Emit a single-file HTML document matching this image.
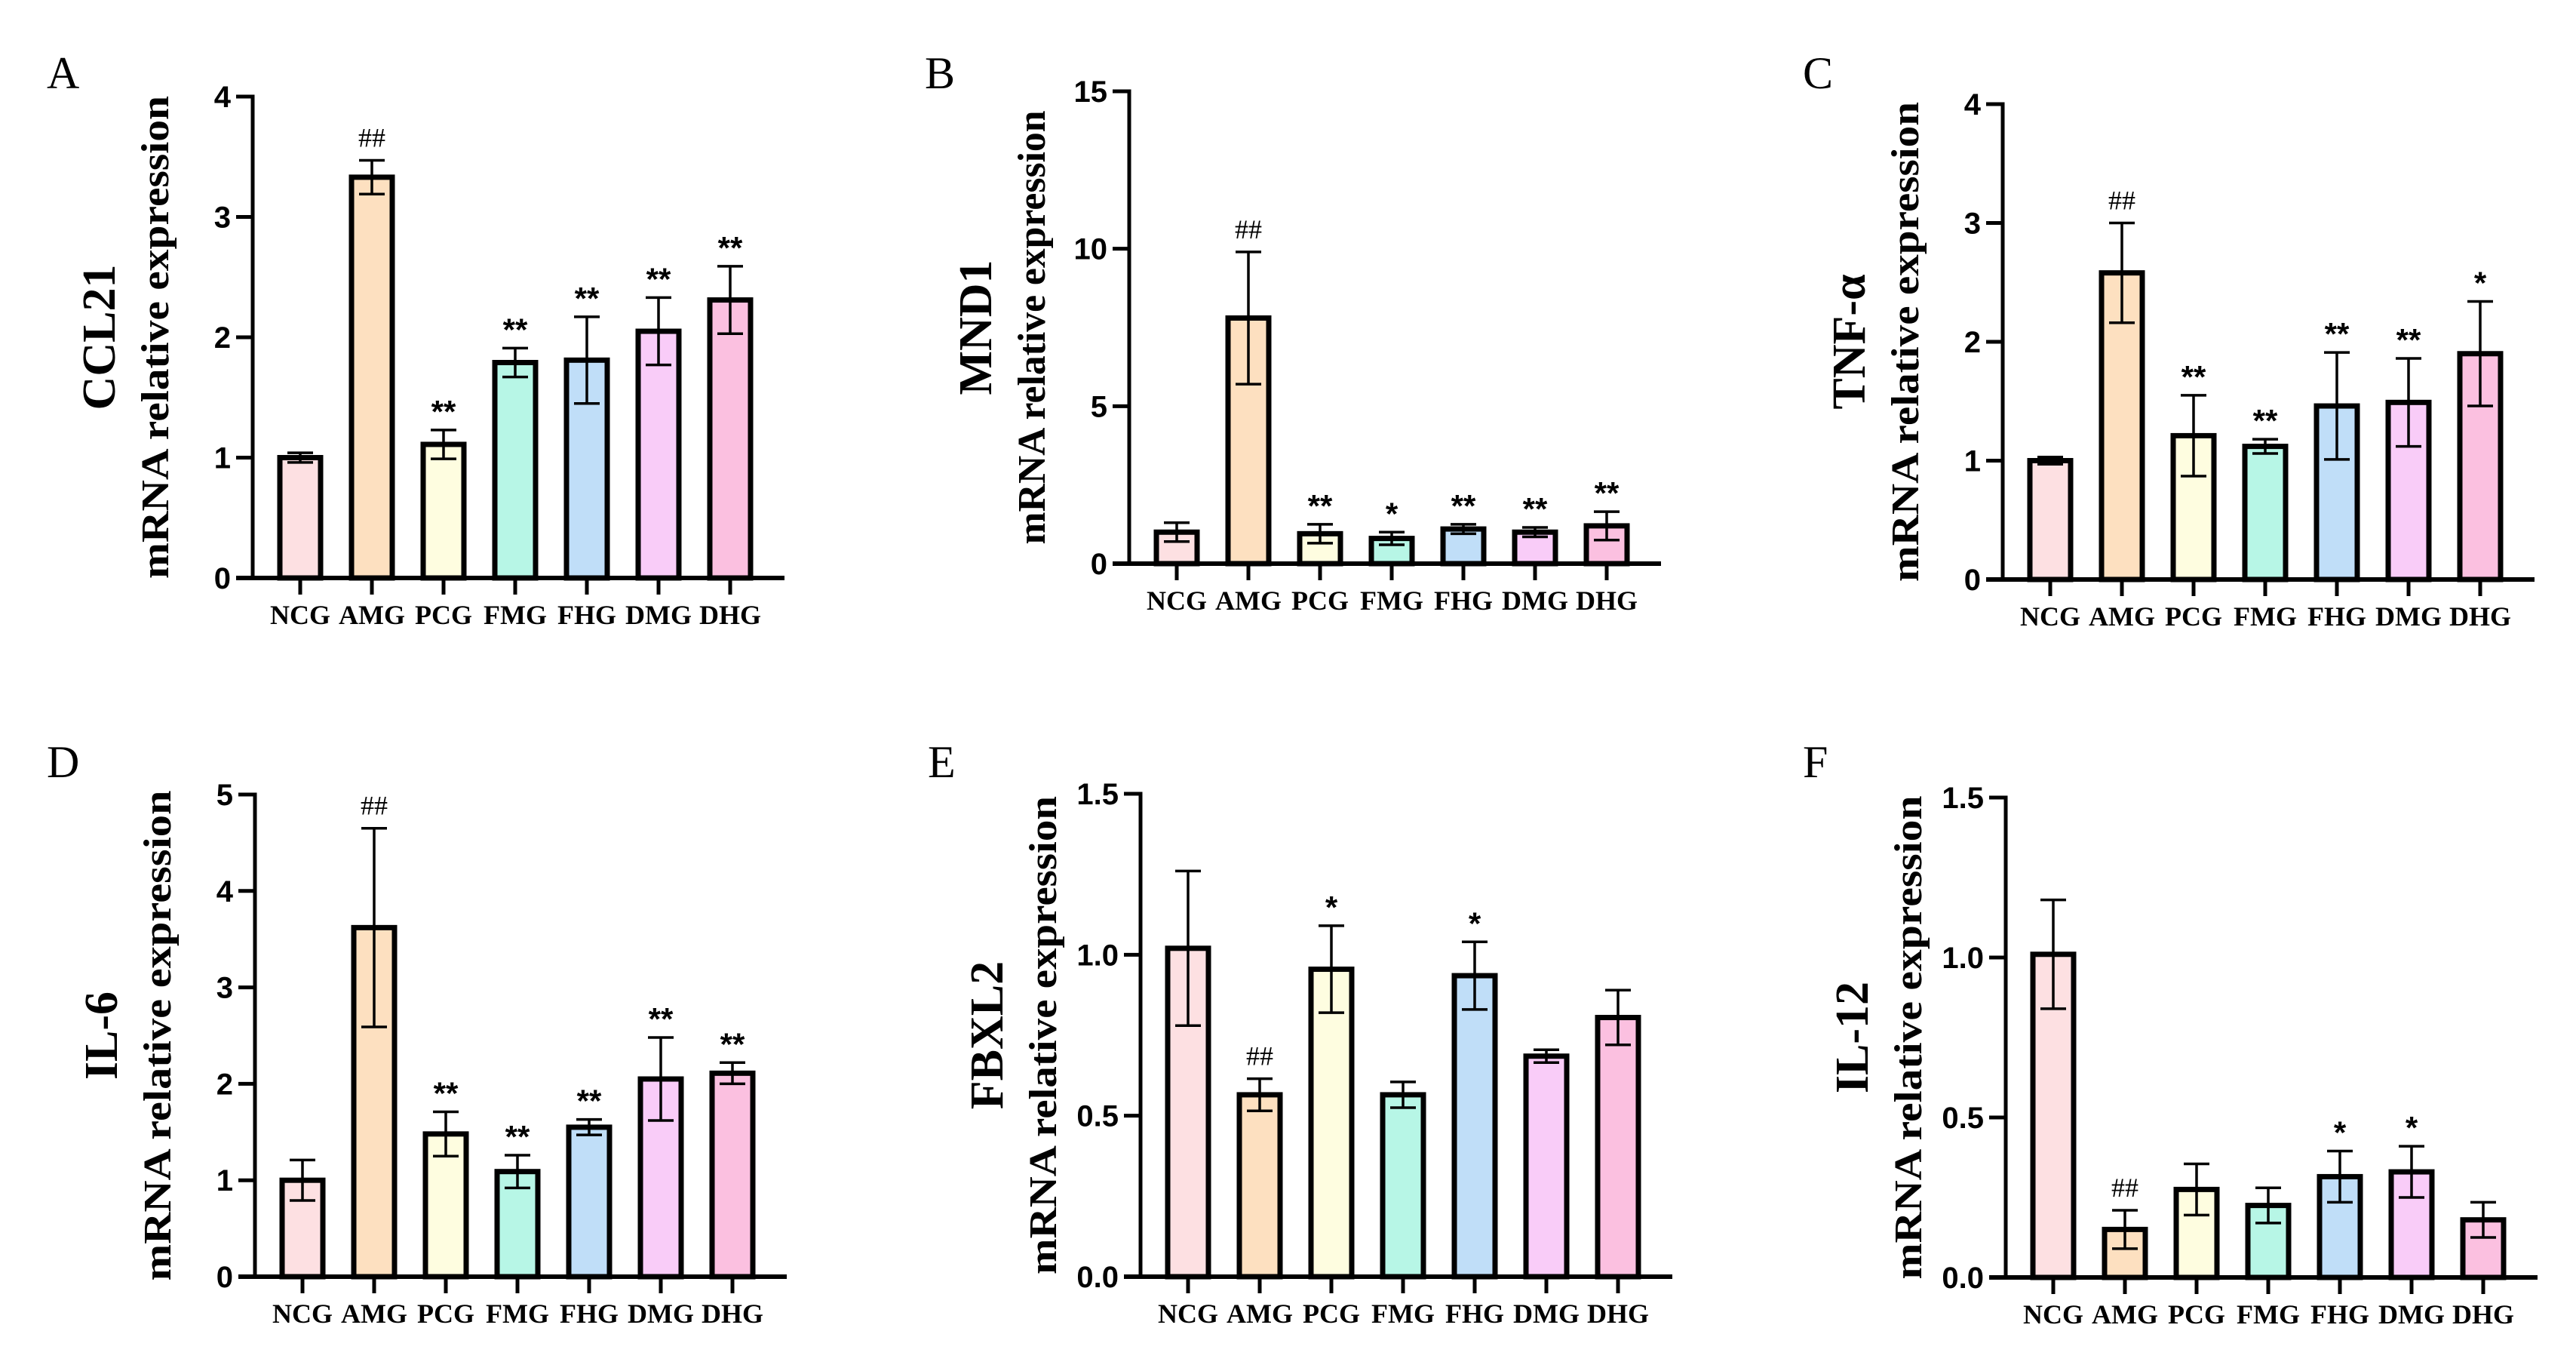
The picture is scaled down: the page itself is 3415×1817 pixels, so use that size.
<!DOCTYPE html>
<html><head><meta charset="utf-8"><style>
html,body{margin:0;padding:0;background:#fff;}
svg{display:block;}
</style></head><body>
<svg id="fig" width="3415" height="1817" viewBox="0 0 3415 1817" xmlns="http://www.w3.org/2000/svg"></svg>
<script>
const categories = ["NCG","AMG","PCG","FMG","FHG","DMG","DHG"];
const colors = ["#fde0e2","#fde0c0","#fefde0","#b7f6e6","#c0def8","#f9ccf8","#fbc0e0"];
const ccl21Means = [1.0,3.33,1.11,1.79,1.81,2.05,2.31];
const ccl21Errs = [0.04,0.14,0.12,0.12,0.36,0.28,0.28];
const ccl21Sig = ["","##","**","**","**","**","**"];
const mnd1Means = [1.0,7.8,0.95,0.8,1.1,1.0,1.2];
const mnd1Errs = [0.3,2.1,0.3,0.2,0.15,0.15,0.45];
const mnd1Sig = ["","##","**","*","**","**","**"];
const tnfMeans = [1.0,2.58,1.21,1.12,1.46,1.49,1.9];
const tnfErrs = [0.03,0.42,0.34,0.06,0.45,0.37,0.44];
const tnfSig = ["","##","**","**","**","**","*"];
const il6Means = [1.0,3.62,1.48,1.09,1.55,2.05,2.11];
const il6Errs = [0.21,1.03,0.23,0.17,0.08,0.43,0.11];
const il6Sig = ["","##","**","**","**","**","**"];
const fbxl2Means = [1.02,0.565,0.955,0.565,0.935,0.685,0.805];
const fbxl2Errs = [0.24,0.05,0.135,0.04,0.105,0.02,0.085];
const fbxl2Sig = ["","##","*","","*","",""];
const il12Means = [1.01,0.15,0.275,0.225,0.315,0.33,0.18];
const il12Errs = [0.17,0.06,0.08,0.055,0.08,0.08,0.055];
const il12Sig = ["","##","","","*","*",""];
const ticksA = ["0","1","2","3","4"];
const ticksB = ["0","5","10","15"];
const ticksD = ["0","1","2","3","4","5"];
const ticksE = ["0.0","0.5","1.0","1.5"];

const NS="http://www.w3.org/2000/svg";
const svg=document.getElementById('fig');
function mk(tag,attrs,parent){const e=document.createElementNS(NS,tag);for(const k in attrs)e.setAttribute(k,attrs[k]);(parent||svg).appendChild(e);return e;}

const panels=[
 {id:"a",letter:"A",lx:62,ly:117,ax:335,top:128,zero:766,gene:"CCL21",tlen:640,means:ccl21Means,errs:ccl21Errs,sig:ccl21Sig,ticks:ticksA},
 {id:"b",letter:"B",lx:1226,ly:117,ax:1497,top:121,zero:747,gene:"MND1",tlen:575,means:mnd1Means,errs:mnd1Errs,sig:mnd1Sig,ticks:ticksB},
 {id:"c",letter:"C",lx:2390,ly:117,ax:2655,top:138,zero:768,gene:"TNF-α",tlen:636,means:tnfMeans,errs:tnfErrs,sig:tnfSig,ticks:ticksA},
 {id:"d",letter:"D",lx:62,ly:1030,ax:338,top:1053,zero:1692,gene:"IL-6",tlen:650,means:il6Means,errs:il6Errs,sig:il6Sig,ticks:ticksD},
 {id:"e",letter:"E",lx:1230,ly:1030,ax:1512,top:1052,zero:1692,gene:"FBXL2",tlen:634,means:fbxl2Means,errs:fbxl2Errs,sig:fbxl2Sig,ticks:ticksE},
 {id:"f",letter:"F",lx:2390,ly:1030,ax:2659,top:1057,zero:1693,gene:"IL-12",tlen:641,means:il12Means,errs:il12Errs,sig:il12Sig,ticks:ticksE}
];

panels.forEach(p=>{
  const g=mk('g',{});
  
  
  const ymax=parseFloat(p.ticks[p.ticks.length-1]);
  const y=v=>p.zero-(v/ymax)*(p.zero-p.top);
  const x=i=>p.ax+63+i*95;
  const L=mk('text',{x:p.lx,y:p.ly,'font-family':'Liberation Serif, serif','font-size':60},g);
  L.textContent=p.letter;
  
  
  const cy=(p.top+p.zero)/2;
  const gx=p.ax-183, mx=p.ax-112;
  const t1=mk('text',{x:gx,y:cy,'font-family':'Liberation Serif, serif','font-weight':'bold','font-size':62,'text-anchor':'middle',transform:`rotate(-90 ${gx} ${cy})`},g);
  t1.textContent=p.gene;
  
  
  const t2=mk('text',{x:mx,y:cy,'font-family':'Liberation Serif, serif','font-weight':'bold','font-size':52,'text-anchor':'middle',textLength:p.tlen,lengthAdjust:'spacingAndGlyphs',transform:`rotate(-90 ${mx} ${cy})`},g);
  t2.textContent="mRNA relative expression";
  
  
  p.means.forEach((m,i)=>{
    const cx=x(i);
    const r=mk('rect',{x:cx-27,y:y(m),width:54,height:p.zero-y(m),fill:colors[i],stroke:'#000','stroke-width':7},g);
    
    
    const e=p.errs[i], hi=y(m+e), lo=y(Math.max(m-e,0));
    const eb=mk('path',{d:`M${cx} ${hi}V${lo}M${cx-17} ${hi}H${cx+17}M${cx-17} ${lo}H${cx+17}`,stroke:'#000','stroke-width':3.5,fill:'none'},g);
    
    
    if(p.sig[i]){
      const isHash=p.sig[i]==="##";
      const s=mk('text',{x:cx,y:hi-(isHash?18:10),'text-anchor':'middle','font-family':isHash?'Liberation Serif, serif':'Liberation Sans, sans-serif','font-weight':isHash?'normal':'bold','font-size':isHash?36:42},g);
      s.textContent=p.sig[i];
      
      
    }
    const tk=mk('line',{x1:cx,y1:p.zero,x2:cx,y2:p.zero+22,stroke:'#000','stroke-width':5},g);
    
    
    const cl=mk('text',{x:cx,y:p.zero+61,'text-anchor':'middle','font-family':'Liberation Serif, serif','font-weight':'bold','font-size':36},g);
    cl.textContent=categories[i];
    
    
  });
  const ya=mk('path',{d:`M${p.ax-22} ${p.top}H${p.ax}V${p.zero}`,stroke:'#000','stroke-width':5,fill:'none'},g);
  
  
  const xa=mk('line',{x1:p.ax-22,y1:p.zero,x2:p.ax+705,y2:p.zero,stroke:'#000','stroke-width':6},g);
  
  
  p.ticks.forEach(t=>{
    const ty=y(parseFloat(t));
    const tl=mk('line',{x1:p.ax-22,y1:ty,x2:p.ax,y2:ty,stroke:'#000','stroke-width':5},g);
    
    
    const tt=mk('text',{x:p.ax-29,y:ty+14,'text-anchor':'end','font-family':'Liberation Sans, sans-serif','font-weight':'bold','font-size':40},g);
    tt.textContent=t;
    
    
  });
});
</script>
</body></html>
